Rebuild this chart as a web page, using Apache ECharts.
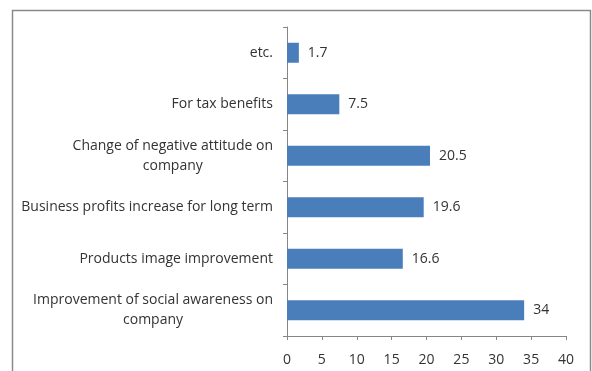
<!DOCTYPE html>
<html>
<head>
<meta charset="utf-8">
<script src="https://cdn.jsdelivr.net/npm/echarts@6/dist/echarts.min.js"></script>
<style>
  html, body { margin: 0; padding: 0; background: #fff; }
  #main { width: 592px; height: 371px; }
</style>
</head>
<body>
<div id="main"></div>
<script>
// categories from bottom to top, as drawn on the y axis
var categories = [
    'Improvement of social awareness on\ncompany',
    'Products image improvement',
    'Business profits increase for long term',
    'Change of negative attitude on\ncompany',
    'For tax benefits',
    'etc.'
];
var values = [34, 16.6, 19.6, 20.5, 7.5, 1.7];
var xTicks = [0, 40, 5]; // min, max, interval

function showChart() {
    var myChart = echarts.init(document.getElementById('main'));
    var option = {
        animation: false,
        textStyle: {fontFamily: 'Open Sans'},
        graphic: [{
            type: 'rect',
            shape: {x: 12.5, y: 10.5, width: 578, height: 380},
            style: {fill: 'none', stroke: '#8a8a8a', lineWidth: 1.5}
        }],
        grid: {left: 287, right: 26, top: 27, bottom: 35},
        xAxis: {
            type: 'value',
            min: xTicks[0],
            max: xTicks[1],
            interval: xTicks[2],
            axisLine: {show: true, lineStyle: {color: '#868686'}},
            axisTick: {show: true, length: 4, lineStyle: {color: '#868686'}},
            splitLine: {show: false},
            axisLabel: {color: '#333', fontSize: 14, margin: 17}
        },
        yAxis: {
            type: 'category',
            data: categories,
            axisLine: {lineStyle: {color: '#868686'}},
            axisTick: {show: true, length: 4, lineStyle: {color: '#868686'}},
            axisLabel: {
                color: '#333',
                fontSize: 14,
                margin: 14,
                formatter: function (v) {
                    return v.split('\n').map(function (s) { return '{c|' + s + '}'; }).join('\n');
                },
                rich: {c: {align: 'center', color: '#333', fontSize: 14, lineHeight: 20}}
            }
        },
        series: [{
            type: 'bar',
            data: values,
            barWidth: 20,
            itemStyle: {color: '#4a7ebb'},
            label: {show: true, position: 'right', distance: 9, color: '#333', fontSize: 14}
        }]
    };
    myChart.setOption(option);
}
showChart();
</script>
</body>
</html>
